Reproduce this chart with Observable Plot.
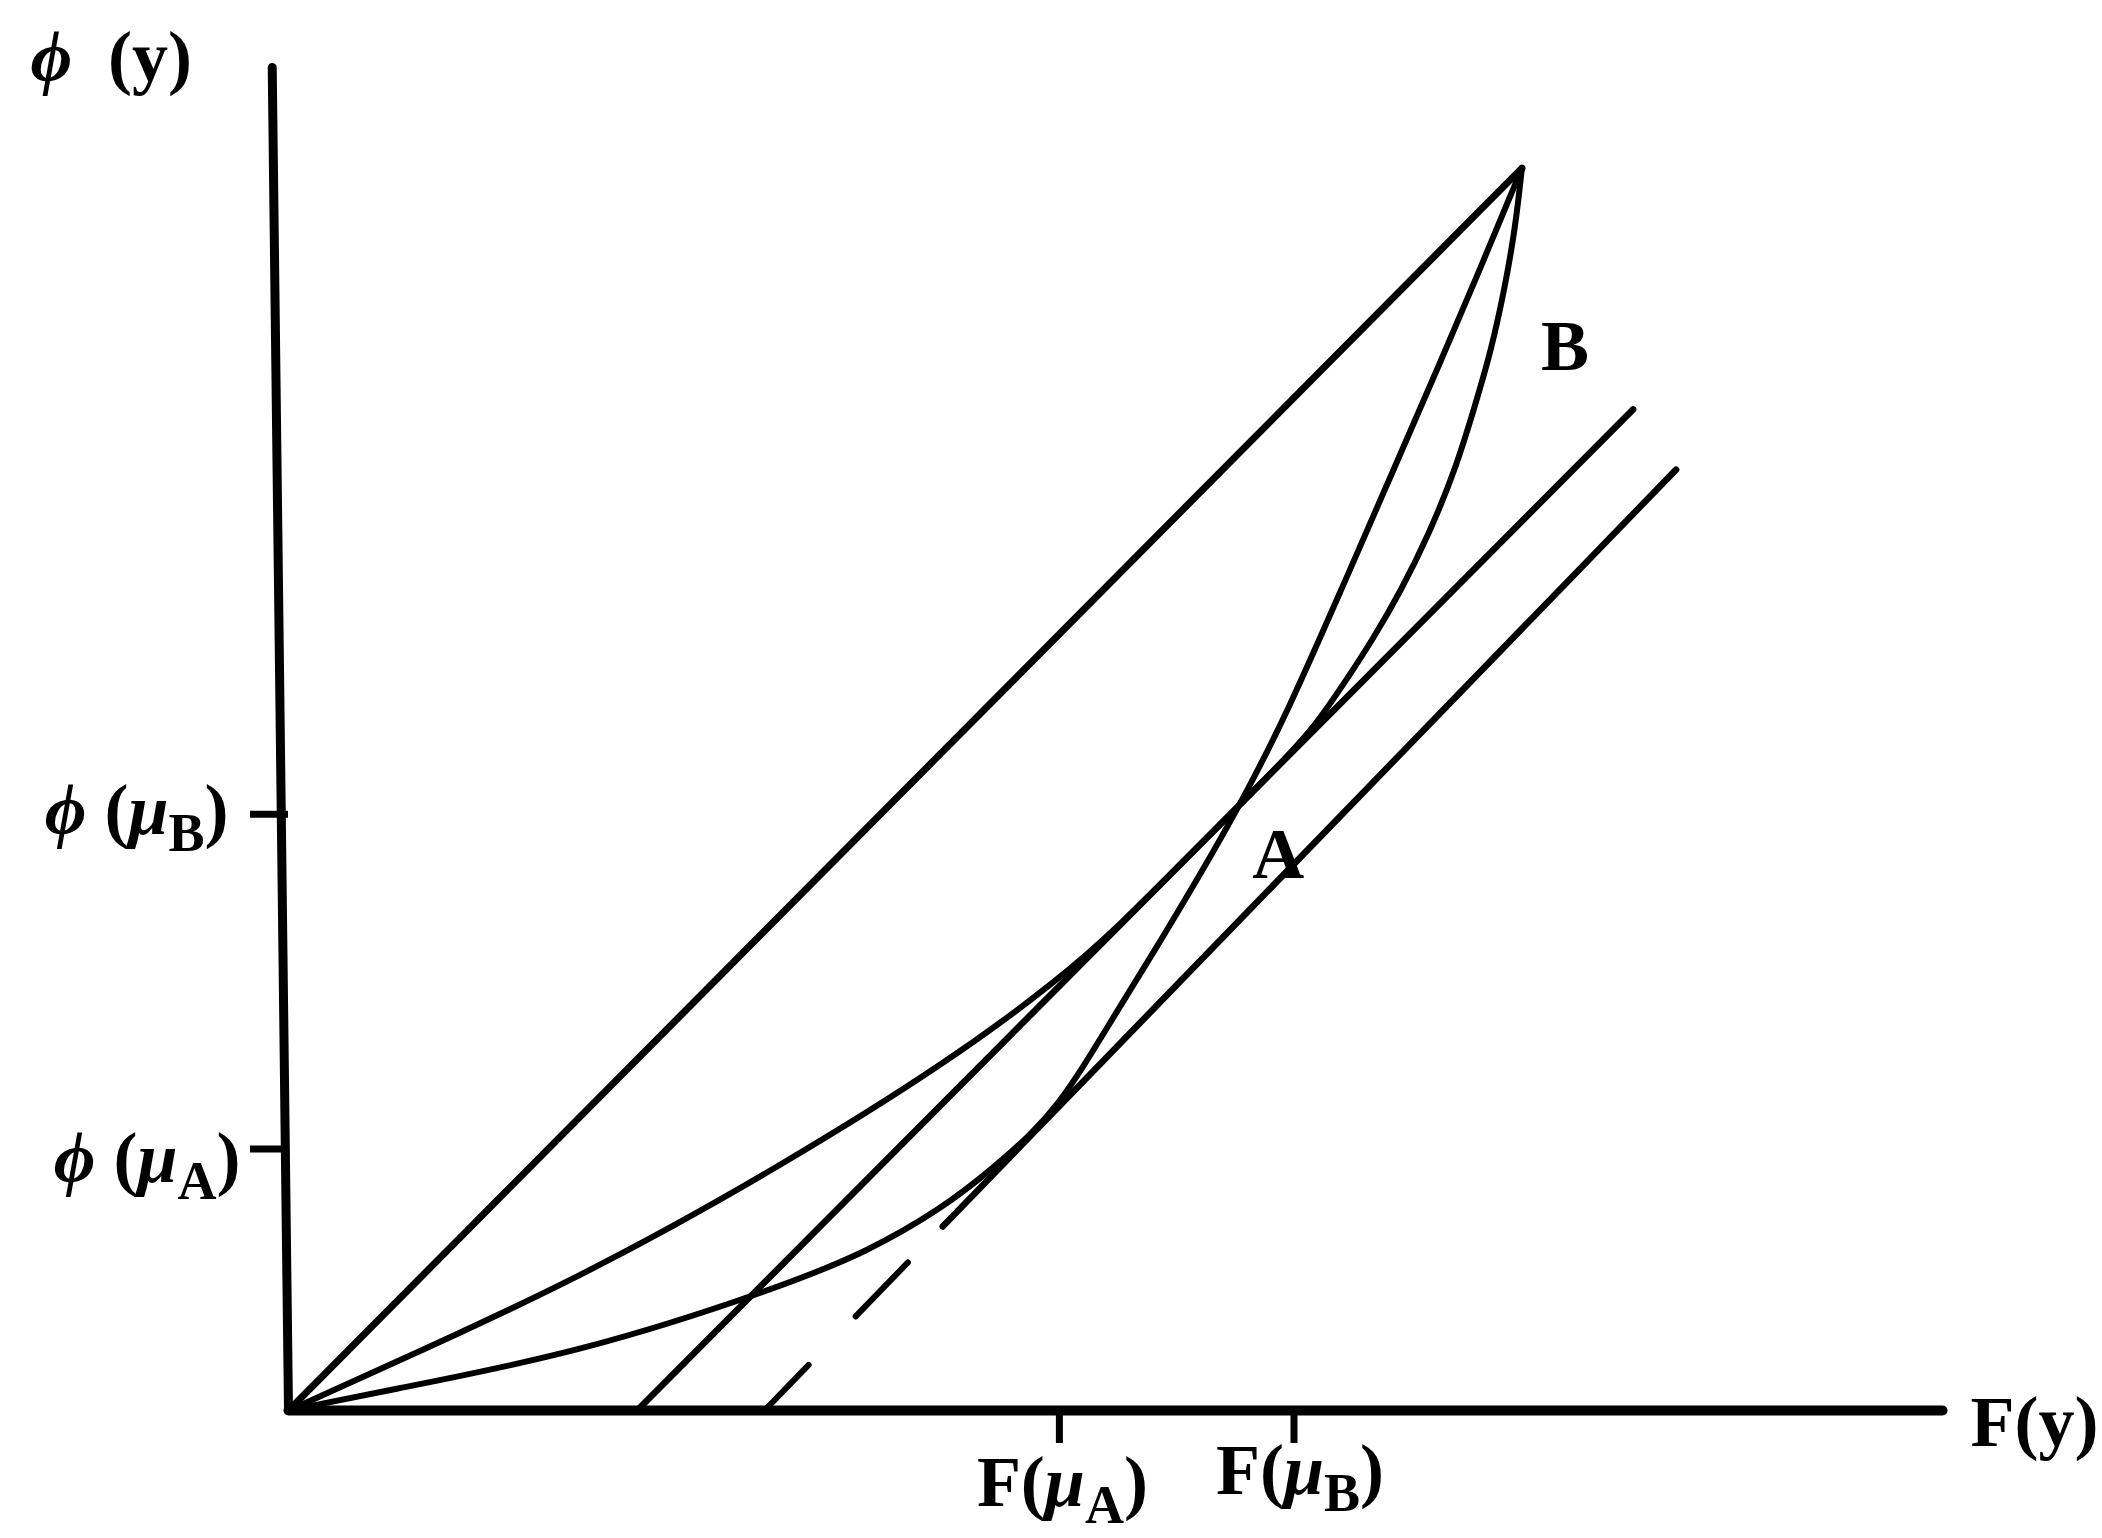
<!DOCTYPE html>
<html>
<head>
<meta charset="utf-8">
<script src="https://cdn.jsdelivr.net/npm/d3@7"></script>
<script src="https://cdn.jsdelivr.net/npm/@observablehq/plot@0.6"></script>
<style>
  html, body { margin: 0; padding: 0; background: #ffffff; }
  svg { display: block; }
</style>
</head>
<body>
<div id="chart"></div>
<script>
// ---------------- data (diagram units: origin = (0,0), common end point = (100,100)) ----------------
const equalityU = [0, 100];
const equalityV = [0, 100];

// curve A (lower, tangent to the second straight line)
const curveAU = [0, 7.39, 23.70, 39.89, 47.0, 53.04, 57.0, 60.3, 62.5, 64.4, 66.85, 71.20, 75.00, 77.72, 80.98, 85.33, 89.67, 93.48, 96.74, 100];
const curveAV = [0, 1.5, 4.64, 9.92, 12.8, 16.3, 19.4, 22.3, 24.8, 27.6, 31.6, 38.6, 44.98, 49.84, 56.2, 66.0, 75.9, 84.6, 92.2, 100];

// curve B (upper, runs along the first straight line for a stretch)
const curveBU = [0, 7.39, 23.70, 39.89, 53.80, 62.50, 67.0, 74.0, 81.0, 83.3, 85.5, 88.0, 90.2, 92.4, 94.6, 96.2, 97.5, 98.6, 99.45, 100];
const curveBV = [0, 3.3, 10.68, 19.63, 28.26, 34.74, 38.66, 45.64, 52.63, 55.2, 58.4, 62.2, 66.0, 70.4, 75.7, 80.9, 85.3, 90.3, 95.1, 100];

// straight line 1 (solid)
const line1U = [28.26, 109.02];
const line1V = [0, 80.58];

// straight line 2 (dashed start, then solid)
const line2DashU1 = [38.59, 45.98];
const line2DashV1 = [0, 7.57];
const line2DashU2 = [42.17, 50.22];
const line2DashV2 = [3.67, 11.92];
const line2SolidU = [53.04, 112.5];
const line2SolidV = [14.81, 75.73];

// axes
const xAxisU = [0, 134.1];
const xAxisV = [0, 0];
const yAxisU = [0, -1.32];
const yAxisV = [0, 108.1];

// ticks and their labels
const xTickValues = [62.5, 81.52];
const xTickLabels = ["F(\u03bc_A)", "F(\u03bc_B)"];
const yTickValues = [48.0, 21.04];
const yTickLabels = ["\u03d5 (\u03bc_B)", "\u03d5 (\u03bc_A)"];

// curve names and where they are written
const curveNames = ["A", "B"];
const curveNameU = [80.25, 103.5];
const curveNameV = [44.7, 85.6];

const xTitle = "F(y)";
const yTitle = "\u03d5\u00a0\u00a0(y)";

// ---------------- helpers ----------------
const rows = (us, vs) => us.map((u, i) => ({u, v: vs[i]}));
const FONT = 72;
const SUB_SIZE = 54;
const SUB_SHIFT = 17;

function richText(svg) {
  const NS = "http://www.w3.org/2000/svg";
  for (const t of svg.querySelectorAll("text")) {
    const s = t.textContent;
    if (!/[_\u03d5\u03bc]/.test(s)) continue;
    t.textContent = "";
    const parts = s.match(/_.|[\u03d5\u03bc]|[^_\u03d5\u03bc]+/g);
    let lowered = false;
    for (const p of parts) {
      const ts = document.createElementNS(NS, "tspan");
      if (p[0] === "_") {
        ts.textContent = p.slice(1);
        ts.setAttribute("font-size", SUB_SIZE);
        ts.setAttribute("dy", SUB_SHIFT);
        lowered = true;
      } else {
        ts.textContent = p;
        if (lowered) { ts.setAttribute("dy", -SUB_SHIFT); lowered = false; }
        if (/[\u03d5\u03bc]/.test(p)) ts.setAttribute("font-style", "italic");
      }
      t.appendChild(ts);
    }
  }
}

const ink = "#000000";
const textOpts = {fontSize: FONT, fontWeight: "bold", fill: ink};

const svg = Plot.plot({
  width: 2102,
  height: 1538,
  marginLeft: 288,
  marginRight: 0,
  marginTop: 0,
  marginBottom: 128,
  style: {background: "#ffffff", fontFamily: "'Liberation Serif', 'Times New Roman', serif", color: ink},
  x: {domain: [0, 147.07], axis: null},
  y: {domain: [0, 113.49], axis: null},
  marks: [
    // axes
    Plot.line(rows(xAxisU, xAxisV), {x: "u", y: "v", stroke: ink, strokeWidth: 10, strokeLinecap: "round"}),
    Plot.line(rows(yAxisU, yAxisV), {x: "u", y: "v", stroke: ink, strokeWidth: 9, strokeLinecap: "round"}),
    Plot.ruleX(xTickValues, {x: d => d, y1: 0, y2: 0, insetBottom: -33, stroke: ink, strokeWidth: 7}),
    Plot.ruleY(yTickValues, {y: d => d, x1: 0, x2: 0, insetLeft: -38, stroke: ink, strokeWidth: 7}),
    // equality diagonal
    Plot.line(rows(equalityU, equalityV), {x: "u", y: "v", stroke: ink, strokeWidth: 7, strokeLinecap: "round"}),
    // straight lines
    Plot.line(rows(line1U, line1V), {x: "u", y: "v", stroke: ink, strokeWidth: 6.5, strokeLinecap: "round"}),
    Plot.link([0, 1], {x1: i => line2DashU1[i], y1: i => line2DashV1[i], x2: i => line2DashU2[i], y2: i => line2DashV2[i], stroke: ink, strokeWidth: 6, strokeLinecap: "round"}),
    Plot.line(rows(line2SolidU, line2SolidV), {x: "u", y: "v", stroke: ink, strokeWidth: 6.5, strokeLinecap: "round"}),
    // curves
    Plot.line(rows(curveAU, curveAV), {x: "u", y: "v", curve: "basis", stroke: ink, strokeWidth: 6, strokeLinejoin: "round"}),
    Plot.line(rows(curveBU, curveBV), {x: "u", y: "v", curve: "basis", stroke: ink, strokeWidth: 6, strokeLinejoin: "round"}),
    // tick labels
    Plot.text([0], {x: i => xTickValues[i], y: 0, text: i => xTickLabels[i], dx: 3, dy: 72, textAnchor: "middle", ...textOpts}),
    Plot.text([1], {x: i => xTickValues[i], y: 0, text: i => xTickLabels[i], dx: 6, dy: 60, textAnchor: "middle", ...textOpts}),
    Plot.text([0], {x: 0, y: i => yTickValues[i], text: i => yTickLabels[i], dx: -60, dy: -3, textAnchor: "end", ...textOpts}),
    Plot.text([1], {x: 0, y: i => yTickValues[i], text: i => yTickLabels[i], dx: -48, dy: 10, textAnchor: "end", ...textOpts}),
    // axis titles
    Plot.text([xTitle], {x: xAxisU[1], y: xAxisV[1], text: d => d, dx: 28, dy: 12, textAnchor: "start", ...textOpts}),
    Plot.text([yTitle], {x: yAxisU[1], y: yAxisV[1], text: d => d, dx: -161, dy: -10, textAnchor: "middle", ...textOpts}),
    // curve names
    Plot.text(curveNames, {x: (d, i) => curveNameU[i], y: (d, i) => curveNameV[i], text: d => d, textAnchor: "middle", ...textOpts})
  ]
});

richText(svg);
document.getElementById("chart").appendChild(svg);
</script>
</body>
</html>
